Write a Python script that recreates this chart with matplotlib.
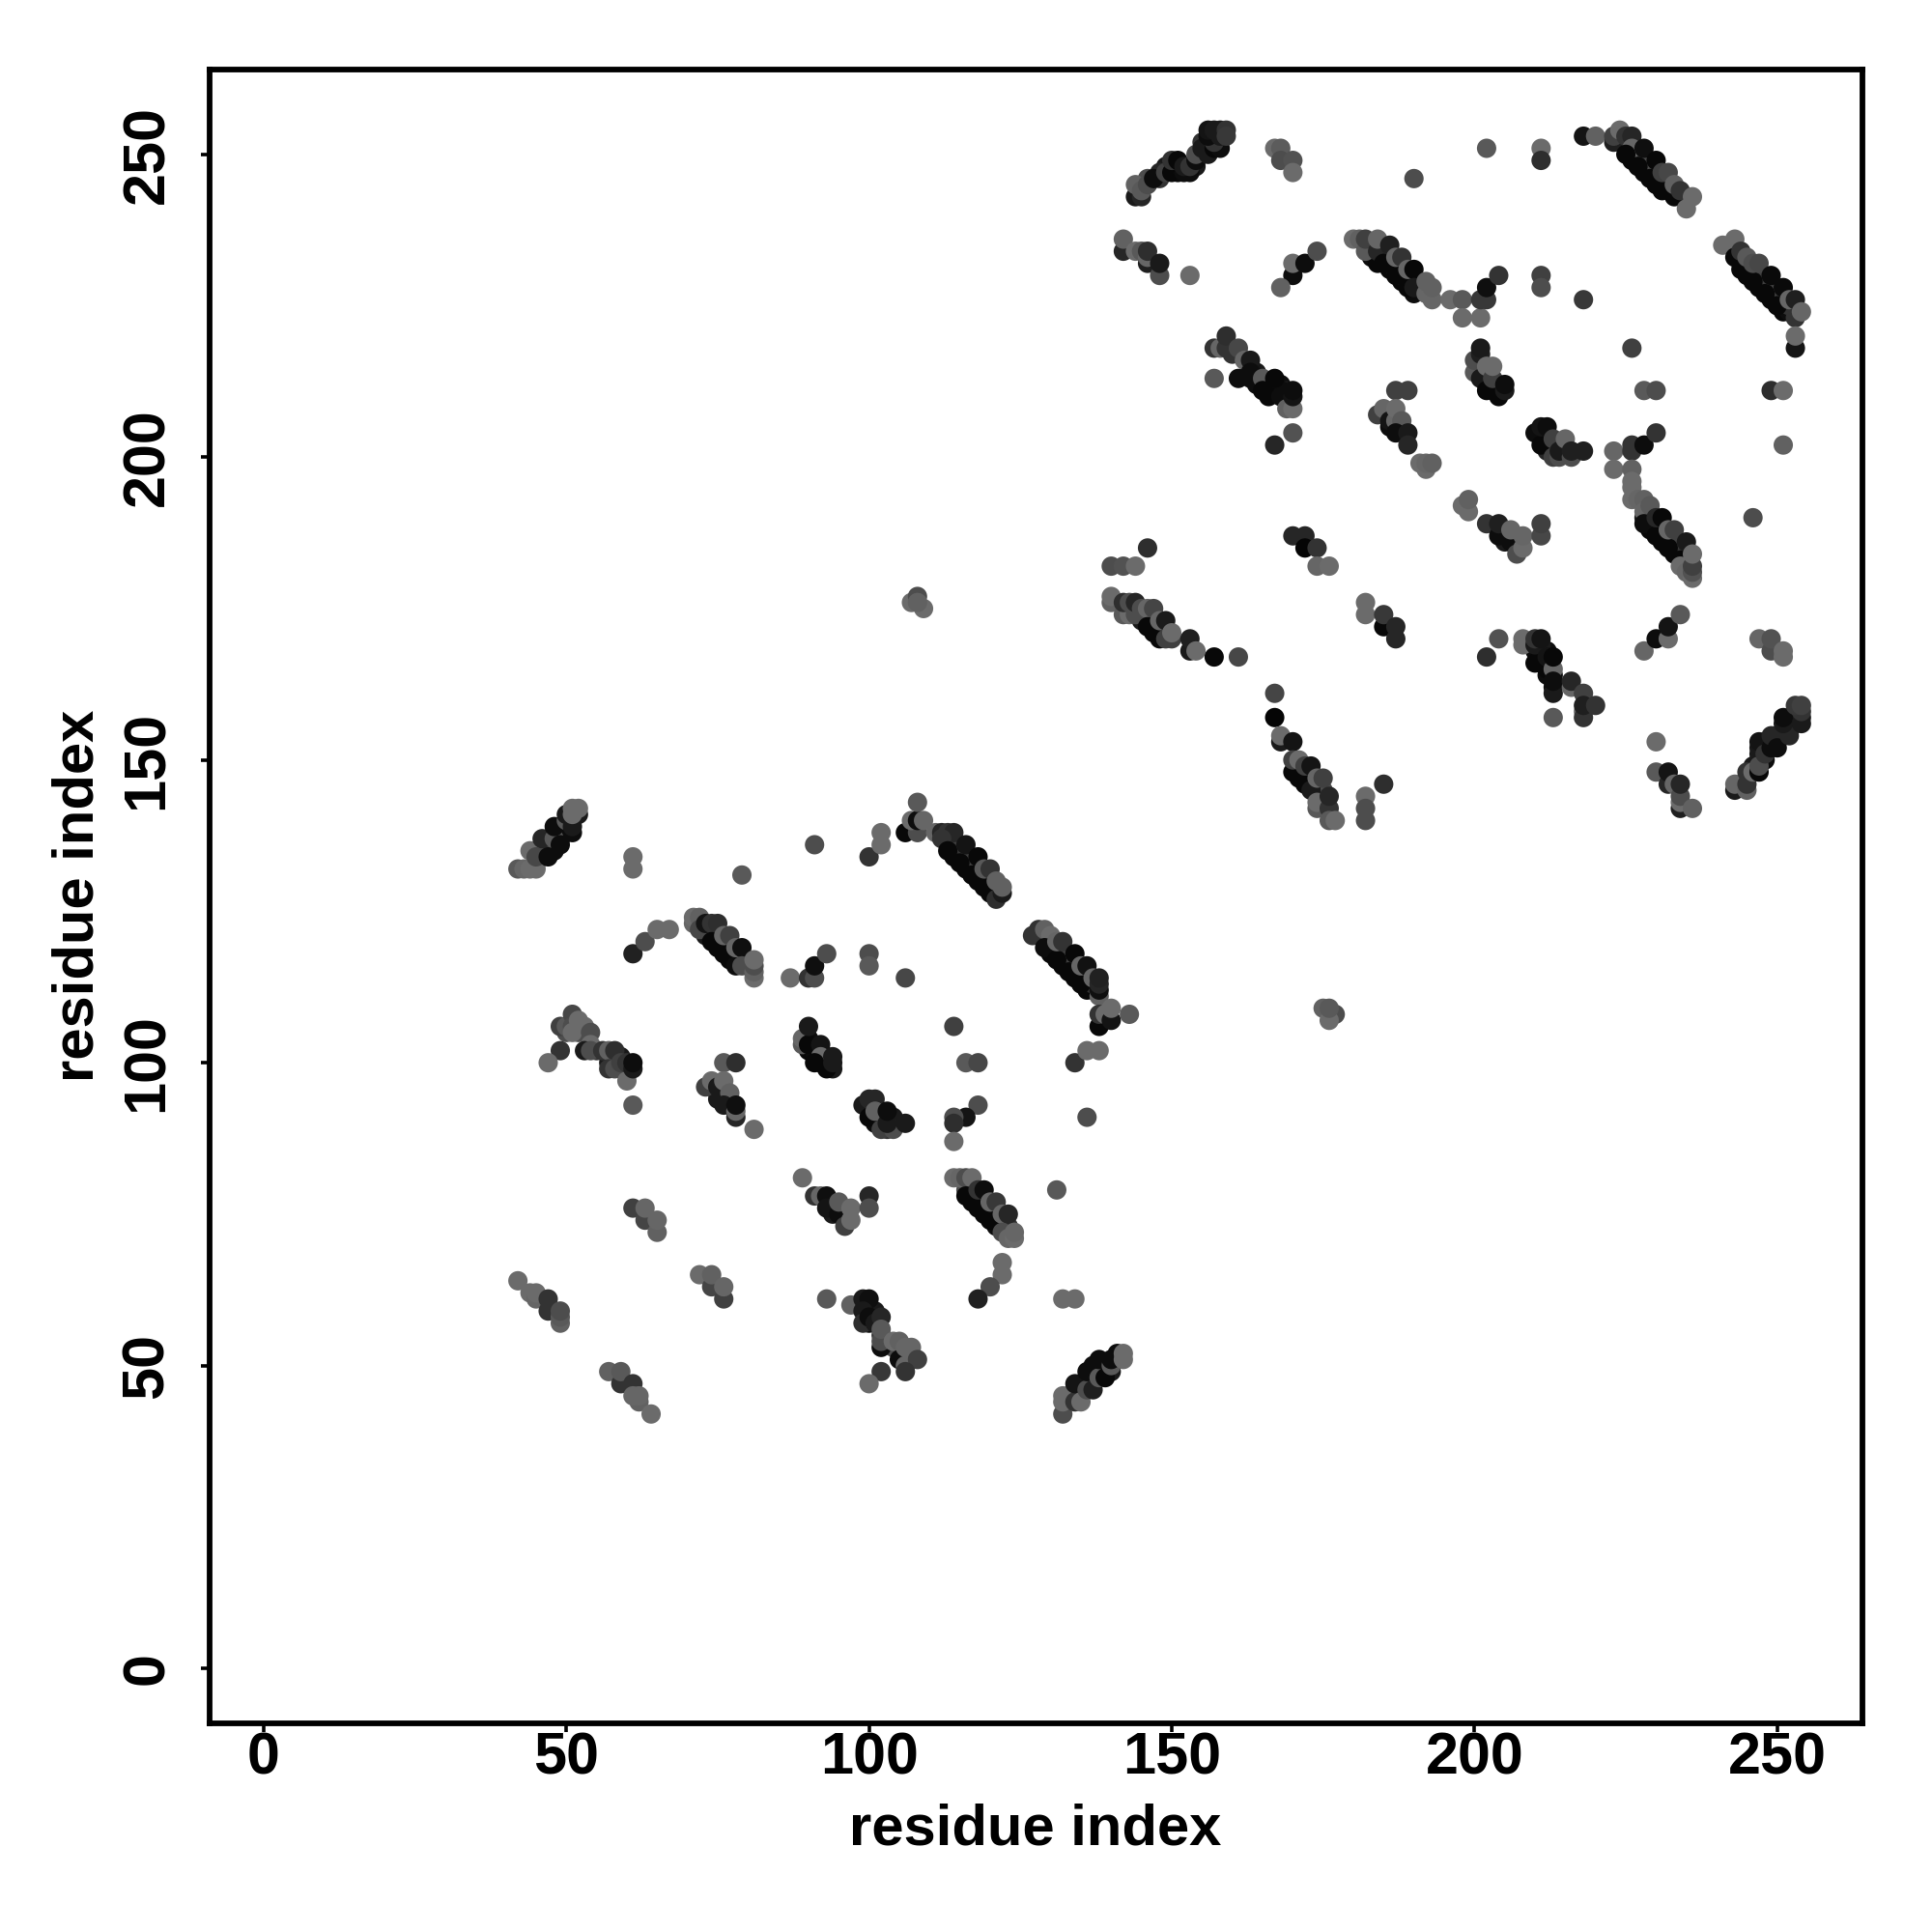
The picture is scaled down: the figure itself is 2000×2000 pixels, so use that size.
import matplotlib
matplotlib.use("Agg")
from matplotlib import pyplot as plt

# (residue, residue, grey level), cluster by cluster
top_left_arc = [(144,243,.1),(145,243,.15),(146,246,.3),(144,245,.38),(145,244,.35),(146,245,.3),(148,247,.15),(147,246,.05),(149,247,.25),
    (150,247,.03),(151,247,.03),(152,247,.05),(153,247,.05),(150,249,.2),(151,249,.03),(152,248,.1),(153,248,.2),(154,249,.05),
    (154,250,.3),(155,251,.1),(156,250,.1),(157,251,.03),(158,251,.05),(157,252,.2),(156,253,.05),(158,253,.1),(156,254,.08),(157,254,.1),(158,254,.1),(159,254,.2),(159,253,.22)]
top_spots = [(167,251,.42),(168,251,.36),(168,249,.3),(170,249,.32),(170,247,.42),(190,246,.3),(202,251,.35),(211,251,.42),(211,249,.18),(218,253,.08),(220,253,.38)]
upper_a = [(142,234,.15),(142,236,.38),(144,234,.42),(145,234,.35),(146,232,.12),(146,233,.4),(146,234,.18),(148,230,.3),(148,232,.1),(153,230,.42),
    (170,230,.05),(168,228,.38),(170,232,.42),(172,232,.05),(174,234,.3)]
band_180 = [(180,236,.42),(181,236,.38),(182,234,.35),(182,236,.25),(184,234,.15),(184,236,.4),(185,232,.03),(187,230,.03),(189,228,.03),(186,235,.12),(187,233,.4),(188,233,.2),
    (189,231,.4),(190,231,.03),(190,228,.1),(192,227,.4),(192,229,.38),(193,226,.4),(193,228,.38),(196,226,.42),(198,226,.35),(198,223,.42)]
mid_spots = [(201,223,.42),(201,226,.22),(202,226,.22),(202,228,.06),(204,230,.2),(211,230,.25),(211,228,.3),(218,226,.22),(226,218,.25),(228,211,.35),(230,211,.3),
    (249,211,.18),(251,211,.42),(251,202,.38),(246,190,.3)]
band_224 = [(223,252,.12),(223,253,.25),(224,254,.42),(225,253,.2),(226,253,.15),(226,251,.4),(225,250,.03),(227,248,.03),(229,246,.03),(231,244,.03),(233,243,.03),
    (228,251,.06),(230,249,.03),(231,247,.25),(232,247,.28),(233,245,.38),(234,244,.2),(235,241,.42),(236,243,.42)]
band_243 = [(241,235,.42),(243,236,.42),(243,233,.03),(244,231,.03),(246,229,.03),(248,227,.03),(250,225,.03),(244,234,.2),(245,233,.35),(246,232,.3),(247,232,.28),
    (249,230,.04),(251,228,.04),(252,226,.4),(253,226,.12),(253,223,.2),(254,224,.4),(253,218,.08),(253,220,.42)]
cluster_157 = [(157,218,.2),(158,218,.4),(159,218,.2),(159,220,.18),(161,218,.28),(162,216,.4),(163,216,.1),(157,213,.35),(161,213,.05),(163,213,.05),(163,214,.05),(165,213,.35),
    (165,211,.03),(166,210,.03),(167,213,.03),(168,210,.05),(169,208,.38),(170,208,.42),(170,210,.08),(170,211,.05),(170,204,.32),(167,202,.15)]
cluster_184 = [(187,211,.25),(189,211,.25),(184,207,.25),(185,208,.4),(186,206,.08),(187,206,.4),(187,208,.42),(188,206,.35),(187,204,.05),(189,204,.1),(189,202,.15),
    (191,199,.42),(192,198,.42),(192,199,.4),(193,199,.38)]
cluster_200 = [(200,214,.35),(200,216,.3),(201,213,.1),(201,217,.12),(201,218,.1),(202,211,.03),(204,210,.03),(202,215,.42),(203,213,.25),(203,215,.42),(205,211,.1),(205,212,.05)]
cluster_210 = [(210,204,.05),(211,202,.03),(211,205,.08),(212,205,.05),(213,200,.25),(214,200,.3),(213,203,.25),(214,201,.1),(215,203,.4),(216,200,.3),(216,201,.12),(218,201,.12)]
cluster_223 = [(223,201,.4),(223,198,.42),(226,202,.2),(226,201,.2),(228,202,.05),(230,204,.2),(226,198,.38),(226,196,.42)]
band_226 = [(226,195,.42),(226,193,.42),(227,193,.4),(228,193,.38),(228,191,.4),(229,192,.35),(228,189,.05),(230,187,.03),(232,185,.03),(234,183,.03),(230,190,.15),(231,190,.03),
    (232,188,.4),(233,188,.25),(235,186,.1),(234,182,.42),(235,181,.4),(236,180,.42),(236,181,.32),(236,182,.25),(236,184,.42)]
cluster_198 = [(198,192,.42),(199,191,.42),(199,193,.38),(202,189,.2),(204,187,.05),(204,189,.12),(206,186,.05),(206,188,.4),(207,184,.3),(208,185,.42),(208,187,.4),(211,187,.28),(211,189,.25)]
cluster_208 = [(202,167,.18),(204,170,.32),(208,169,.42),(208,170,.42),(210,166,.03),(210,169,.1),(210,170,.2),(211,170,.08),(212,165,.03),(212,167,.08),(213,165,.4),(213,167,.03),
    (213,161,.1),(213,163,.05),(213,157,.35),(216,162,.4),(216,163,.15),(218,158,.4),(218,157,.2),(218,161,.25),(218,159,.12),(220,159,.2)]
spots_170 = [(228,168,.4),(230,170,.05),(232,170,.42),(232,172,.08),(234,174,.35),(247,170,.4),(249,168,.3),(249,170,.32),(251,167,.42),(251,168,.42)]
band_243_low = [(243,145,.1),(243,146,.4),(245,145,.38),(245,146,.2),(245,148,.2),(246,148,.42),(247,148,.03),(247,149,.3),(247,152,.1),(247,153,.08),(248,151,.2),(249,152,.05),(249,154,.15),
    (250,152,.05),(252,154,.15),(251,156,.1),(251,157,.05),(254,156,.1),(254,158,.2),(253,159,.22),(254,159,.25)]
cluster_230 = [(230,153,.42),(230,148,.35),(232,146,.15),(232,148,.08),(233,146,.4),(234,142,.12),(234,143,.42),(234,144,.3),(234,146,.15),(236,142,.38)]
row_182 = [(146,185,.18),(140,182,.3),(142,182,.32),(144,182,.42)]
band_140 = [(140,176,.38),(140,177,.42),(142,174,.35),(143,174,.42),(144,174,.3),(142,176,.18),(143,176,.3),(144,176,.15),(145,175,.3),(146,175,.4),(147,175,.27),(146,172,.03),(148,170,.03),
    (149,170,.25),(150,170,.25),(148,173,.4),(149,173,.1),(150,171,.42),(153,168,.1),(153,170,.12),(154,168,.42),(157,167,.03),(161,167,.28)]
cluster_170 = [(170,187,.15),(172,187,.15),(172,185,.02),(174,185,.2),(174,182,.4),(176,182,.42),(182,176,.42),(182,174,.42),(185,172,.03),(185,174,.22),(187,172,.15),(187,170,.15)]
band_167 = [(167,161,.27),(167,157,.02),(168,153,.1),(168,154,.42),(170,153,.08),(170,148,.03),(170,150,.25),(171,150,.42),(172,146,.03),(172,149,.25),(173,145,.1),(173,149,.08),
    (174,142,.35),(174,143,.42),(174,147,.4),(175,147,.25),(176,142,.2),(176,144,.15),(176,140,.35),(177,140,.42),(182,144,.42),(182,142,.3),(182,140,.3),(185,146,.18)]
far_spots = [(107,176,.42),(108,177,.3),(109,175,.42),(108,176,.38),(175,109,.38),(177,108,.3),(176,107,.42),(176,109,.35)]

band_42 = [(42,132,.35),(43,132,.4),(44,132,.42),(45,132,.42),(44,135,.42),(45,134,.28),(46,137,.15),(47,134,.05),(48,137,.35),(48,139,.05),(49,136,.05),(50,140,.35),(50,141,.1),(51,138,.05),
    (51,139,.1),(52,141,.1),(51,141,.42),(51,142,.42),(52,142,.42)]
low_spots = [(61,134,.42),(61,132,.42),(79,131,.35),(91,136,.3),(100,134,.2),(102,136,.42),(102,138,.42),(106,138,.03),(108,138,.3),(107,140,.42),(108,140,.05),(109,140,.4),(108,143,.35),
    (61,118,.13),(63,120,.3),(65,122,.42),(67,122,.42)]
band_71 = [(71,123,.4),(71,124,.42),(72,124,.38),(72,122,.28),(73,123,.08),(74,123,.2),(75,123,.18),(74,120,.03),(76,118,.03),(78,116,.05),(76,121,.4),(77,121,.25),(78,119,.4),(79,119,.06),
    (79,116,.3),(81,114,.42),(81,115,.38),(81,116,.3),(81,117,.42)]
spots_114 = [(87,114,.42),(90,114,.2),(91,114,.3),(91,116,.06),(93,118,.3),(100,118,.3),(100,116,.35),(106,114,.28),(114,106,.25),(116,100,.35),(118,100,.28),(134,100,.2),(136,102,.42),(138,102,.42),
    (136,91,.3),(118,93,.3),(116,91,.08),(114,91,.3),(114,90,.18),(114,87,.42),(131,79,.35)]
cluster_47 = [(49,106,.25),(50,106,.35),(51,108,.28),(51,106,.3),(52,107,.42),(51,105,.42),(53,106,.42),(54,105,.3),(54,103,.42),(49,102,.2),(47,100,.42),(53,102,.1),(54,102,.3),(56,102,.2),
    (57,102,.38),(58,102,.18),(57,99,.2),(58,99,.3),(60,97,.42),(59,100,.25),(60,100,.2),(61,99,.1),(61,100,.05),(61,93,.35)]
cluster_73 = [(76,100,.35),(78,100,.18),(73,96,.25),(74,97,.42),(75,96,.1),(76,97,.42),(77,95,.38),(76,93,.1),(78,91,.15),(78,92,.4),(78,93,.06),(81,89,.42)]
cluster_89 = [(89,103,.35),(89,104,.4),(90,103,.03),(90,106,.1),(92,103,.08),(92,101,.42),(91,100,.03),(93,99,.03),(94,100,.1),(94,101,.1)]
cluster_99 = [(99,93,.1),(100,94,.15),(101,94,.15),(100,91,.03),(101,92,.38),(102,89,.25),(104,89,.3),(103,90,.1),(103,92,.05),(106,90,.1)]
band_111 = [(111,138,.4),(112,138,.15),(113,138,.2),(114,138,.15),(112,137,.2),(113,135,.03),(115,133,.03),(117,131,.03),(119,129,.03),(121,127,.18),(116,136,.08),(118,134,.03),(119,132,.35),(120,132,.2),
    (122,128,.1),(121,130,.38),(122,129,.38)]
band_128 = [(127,121,.2),(128,122,.2),(129,122,.38),(130,121,.42),(129,119,.05),(131,117,.03),(133,115,.03),(135,113,.03),(131,120,.4),(132,120,.2),(134,118,.03),(135,116,.4),(136,116,.07),
    (137,114,.4),(138,111,.38),(138,112,.06),(138,113,.15),(138,114,.13),(138,106,.03),(138,108,.2),(139,108,.42),(140,107,.08),(140,109,.42),(143,108,.35)]
cluster_89_low = [(89,81,.42),(91,78,.2),(92,78,.4),(93,78,.06),(93,76,.08),(95,75,.05),(95,77,.35),(96,73,.25),(97,74,.42),(97,76,.42),(100,78,.15),(100,76,.3)]
spots_74 = [(61,76,.25),(63,74,.27),(63,76,.4),(65,72,.38),(65,74,.4),(72,65,.42),(74,63,.27),(74,65,.38),(76,61,.25),(76,63,.4),
    (93,61,.35),(97,60,.38)]
row_42 = [(42,64,.42),(44,62,.42),(45,61,.4),(45,62,.42),(47,59,.2),(47,61,.2),(49,57,.38),(49,58,.35),(49,59,.3),
    (57,49,.38),(59,47,.2),(59,49,.35),(61,47,.2),(62,44,.38),(61,45,.4),(62,45,.4),(64,42,.42)]
cluster_99_low = [(99,61,.1),(100,61,.06),(99,59,.1),(99,57,.18),(100,58,.05),(101,57,.1),(102,58,.15),(102,53,.05),(102,54,.3),(102,56,.35),(104,54,.42),(105,51,.05),(105,54,.38),(106,50,.4),
    (106,53,.4),(107,53,.4),(108,51,.25),(102,49,.22),(100,47,.42),(106,49,.2)]
band_114 = [(114,81,.42),(115,81,.4),(116,81,.3),(117,81,.42),(116,78,.03),(118,76,.03),(120,74,.03),(118,79,.2),(119,79,.05),(120,77,.4),(121,77,.22),(122,75,.4),(123,75,.15),(122,72,.3),
    (123,71,.4),(124,71,.42),(124,72,.4),(122,67,.42),(122,65,.42),(120,63,.3),(118,61,.13),(132,61,.42),(134,61,.42)]
band_132 = [(132,42,.3),(132,44,.42),(132,45,.42),(134,44,.2),(134,47,.08),(135,44,.42),(136,46,.3),(136,49,.05),(137,46,.12),(138,48,.35),(138,51,.05),(139,48,.03),(140,50,.35),(140,51,.05),(141,52,.05),
    (142,51,.42),(142,52,.42)]

# contacts hidden under the darker rims of the bands, drawn first
under_upper = [(226,249,.03),(228,247,.03),(230,245,.03),(232,244,.03),(226,250,.15),(227,250,.3),(228,249,.25),(229,248,.25),(230,247,.25),(231,246,.3),(232,245,.3),(233,244,.25),(229,249,.3),
    (245,230,.03),(247,228,.03),(249,226,.03),(251,224,.03),(252,224,.05),(245,232,.3),(246,231,.25),(247,230,.25),(248,229,.25),(249,228,.25),(250,227,.25),(251,226,.25),(252,225,.2),
    (186,231,.03),(188,229,.03),(190,227,.05),(183,233,.05),(184,232,.03),(185,233,.3),(186,232,.25),(187,231,.25),(188,230,.25),(189,229,.3),(191,228,.3),
    (229,188,.03),(231,186,.03),(233,184,.03),(235,183,.05),(228,190,.1),(229,190,.1),(230,189,.25),(231,188,.25),(232,187,.25),(233,186,.25),(234,185,.25),(235,184,.2),
    (147,171,.03),(147,173,.25),(148,172,.2),(149,171,.1),(145,173,.1),(146,173,.1),
    (171,147,.03),(173,147,.1),(174,145,.1),(175,144,.1),(172,147,.2),(175,145,.3),(173,146,.03),
    (155,250,.1),(156,251,.05),(157,253,.1),(155,252,.2),(154,248,.1),(149,248,.1),(148,246,.2),
    (246,149,.1),(247,150,.1),(247,151,.1),(248,152,.05),(248,153,.05),(249,153,.1),(250,153,.1),(250,154,.08),(251,155,.2),(252,155,.1),(252,156,.1),(253,156,.05),(253,157,.05),(253,158,.1),(254,157,.1),(248,150,.05),(244,146,.25),
    (164,212,.05),(164,214,.1),(166,212,.05),(167,211,.03),(168,212,.05),(169,210,.05),(169,211,.1),(160,217,.2),(163,215,.08),(168,211,.05),
    (201,215,.2),(201,214,.3),(202,212,.08),(203,211,.03),(203,212,.15),(204,211,.05),(202,214,.1),(204,212,.1),
    (211,204,.05),(212,203,.05),(212,202,.05),(213,201,.05),(212,201,.15),(214,202,.1),(215,201,.1),
    (210,168,.05),(211,167,.05),(211,168,.05),(212,168,.05),(211,166,.05),(212,164,.05),(213,164,.05),(213,162,.05),(211,169,.1),
    (186,205,.05),(187,205,.1),(186,207,.25),(205,187,.05),(205,186,.1),(206,187,.2),(207,186,.1),(207,185,.3)]
under_lower = [(46,135,.1),(47,135,.1),(47,136,.1),(48,135,.05),(48,136,.1),(49,137,.1),(49,138,.3),(50,138,.1),(50,139,.05),(51,140,.1),(47,137,.1),(46,136,.25),(45,135,.25),(46,134,.3),
    (75,119,.03),(77,117,.03),(79,117,.1),(78,117,.03),(75,121,.25),(76,120,.25),(77,119,.3),(78,118,.25),(73,121,.1),(74,122,.15),(80,116,.15),
    (114,134,.03),(116,132,.03),(118,130,.03),(120,128,.03),(115,135,.25),(116,134,.25),(117,133,.25),(118,132,.25),(119,131,.25),(120,130,.3),(121,128,.05),(114,136,.2),(113,137,.25),
    (130,118,.03),(132,116,.03),(134,114,.03),(136,112,.03),(137,112,.03),(131,119,.25),(132,118,.25),(133,117,.25),(134,116,.25),(135,115,.25),(136,114,.25),(137,113,.2),(130,120,.3),
    (117,77,.03),(119,75,.03),(121,73,.05),(122,74,.2),(117,79,.2),(118,78,.25),(119,77,.25),(120,76,.25),(121,75,.25),(122,73,.1),(123,73,.2),(116,79,.3),
    (135,46,.1),(135,47,.08),(136,47,.08),(137,47,.08),(137,48,.05),(138,49,.05),(138,50,.08),(139,49,.05),(139,50,.05),(140,49,.1),(141,51,.1),(133,45,.3),(134,45,.15),(135,45,.25),(136,48,.05),(137,50,.05),
    (90,102,.03),(91,101,.03),(92,100,.03),(90,104,.05),(91,102,.05),(91,103,.05),(93,100,.05),(93,101,.1),(94,99,.1),
    (101,91,.05),(101,90,.05),(102,90,.05),(102,91,.05),(103,89,.2),(104,90,.1),(104,91,.1),
    (100,59,.05),(100,57,.05),(101,58,.05),(101,59,.1),(102,55,.2),(106,52,.1),(106,51,.05),(107,51,.1),(105,52,.1),(104,53,.3),
    (55,102,.2),(57,101,.1),(58,100,.1),(58,101,.1),(59,101,.1),(59,99,.1),(60,99,.1),(57,100,.1),(50,105,.3),(52,105,.3),
    (75,95,.1),(76,94,.1),(76,95,.1),(77,94,.1),(77,93,.1),(75,94,.1),(94,76,.1),(94,77,.3),(94,75,.1)]

clusters = [under_upper, under_lower, top_left_arc, top_spots, upper_a, band_180, mid_spots, band_224, band_243, cluster_157, cluster_184, cluster_200,
            cluster_210, cluster_223, band_226, cluster_198, cluster_208, spots_170, band_243_low, cluster_230, row_182, band_140,
            cluster_170, band_167, far_spots, band_42, low_spots, band_71, spots_114, cluster_47, cluster_73, cluster_89, cluster_99,
            band_111, band_128, cluster_89_low, spots_74, row_42, cluster_99_low, band_114, band_132]

tick_values = [0, 50, 100, 150, 200, 250]

plt.rcParams["font.family"] = ["Liberation Sans", "DejaVu Sans"]
plt.rcParams["font.weight"] = "bold"

fig = plt.figure(figsize=(10, 10), dpi=200)
ax = fig.add_axes([216.5 / 2000, 1 - 1783.5 / 2000, 1711 / 2000, 1711.5 / 2000])

for cluster in clusters:
    xs = [p[0] for p in cluster]
    ys = [p[1] for p in cluster]
    greys = [(p[2], p[2], p[2]) for p in cluster]
    ax.scatter(xs, ys, s=52, c=greys, linewidths=0, zorder=3)

ax.set_xlim(-9, 264)
ax.set_ylim(-9, 264)
ax.set_xticks(tick_values)
ax.set_yticks(tick_values)
ax.tick_params(axis="both", direction="out", length=3.4, width=1.3, labelsize=22)
ax.tick_params(axis="x", pad=0)
ax.tick_params(axis="y", pad=9)
plt.setp(ax.get_yticklabels(), rotation=90, va="center")
for spine in ax.spines.values():
    spine.set_linewidth(2.1)

ax.set_xlabel("residue index", fontsize=21.5, fontweight="bold", labelpad=6)
ax.set_ylabel("residue index", fontsize=21.5, fontweight="bold", labelpad=6)

fig.savefig("out.png", dpi=200)
